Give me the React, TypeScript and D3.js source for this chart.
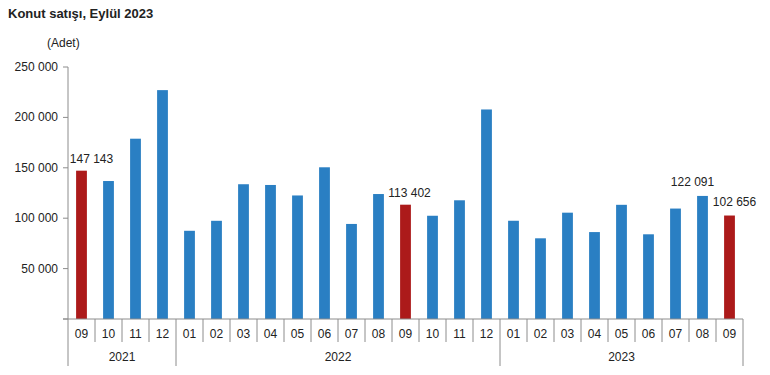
import * as d3 from "d3";
import { useEffect, useRef } from "react";

const months = ["09", "10", "11", "12", "01", "02", "03", "04", "05", "06", "07", "08", "09", "10", "11", "12", "01", "02", "03", "04", "05", "06", "07", "08", "09"];
const years = ["2021", "2021", "2021", "2021", "2022", "2022", "2022", "2022", "2022", "2022", "2022", "2022", "2022", "2022", "2022", "2022", "2023", "2023", "2023", "2023", "2023", "2023", "2023", "2023", "2023"];
const sales = [147143, 136883, 178866, 227060, 87506, 97418, 133698, 132965, 122555, 150509, 94300, 123975, 113402, 102425, 117771, 207860, 97461, 80054, 105476, 86234, 113276, 84031, 109563, 122091, 102656];
const highlighted = [0, 12, 24];
const labelled = [0, 12, 23, 24];
const yTicks = [0, 50000, 100000, 150000, 200000, 250000];

const App = () => {
  const ref = useRef<SVGSVGElement>(null);

  useEffect(() => {
    if (ref && ref.current) ref.current.innerHTML = "";

    const width = 770;
    const height = 375;
    const left = 68, right = 743, top = 67, bottom = 319;

    const svg = d3.select(ref.current)
      .attr("width", width)
      .attr("height", height)
      .style("font-family", "'Liberation Sans', Arial, sans-serif");

    const x = d3.scaleBand<number>()
      .domain(d3.range(sales.length))
      .range([left, right])
      .paddingInner(0.6)
      .paddingOuter(0.3);
    const step = x.step();
    const y = d3.scaleLinear().domain([0, 250000]).range([bottom, top]);
    const fmt = (v: number) => d3.format(",d")(v).replace(/,/g, " ");
    const axisColor = "#8c8c8c";

    // title
    svg.append("text")
      .attr("x", 8).attr("y", 18)
      .attr("font-size", 13).attr("font-weight", "bold").attr("fill", "#222")
      .text("Konut satışı, Eylül 2023");
    svg.append("text")
      .attr("x", 47).attr("y", 47)
      .attr("font-size", 12).attr("fill", "#222")
      .text("(Adet)");

    // y axis
    svg.append("line")
      .attr("x1", left).attr("x2", left).attr("y1", top).attr("y2", bottom)
      .attr("stroke", axisColor);
    const yt = svg.append("g").selectAll("g").data(yTicks).join("g");
    yt.append("line")
      .attr("x1", left - 5).attr("x2", left)
      .attr("y1", d => y(d)).attr("y2", d => y(d))
      .attr("stroke", axisColor);
    yt.filter(d => d > 0).append("text")
      .attr("x", left - 10).attr("y", d => y(d) + 4)
      .attr("text-anchor", "end").attr("font-size", 12).attr("fill", "#222")
      .text(d => fmt(d));

    // bars
    svg.append("g").selectAll("rect").data(sales).join("rect")
      .attr("x", (d, i) => x(i)!)
      .attr("width", x.bandwidth())
      .attr("y", d => y(d))
      .attr("height", d => bottom - y(d))
      .attr("fill", (d, i) => highlighted.includes(i) ? "#ac1a1a" : "#2a7fc3");

    // value labels
    const dxs: Record<number, number> = { 0: 10, 12: 4, 23: -10, 24: 5 };
    svg.append("g").selectAll("text").data(labelled).join("text")
      .attr("x", i => x(i)! + x.bandwidth() / 2 + (dxs[i] || 0))
      .attr("y", i => y(sales[i]) - (i === 23 || i === 24 ? 10 : 8))
      .attr("text-anchor", "middle").attr("font-size", 12).attr("fill", "#222")
      .text(i => fmt(sales[i]));

    // x axis
    svg.append("line")
      .attr("x1", left - 5).attr("x2", right).attr("y1", bottom).attr("y2", bottom)
      .attr("stroke", axisColor);
    const edges = d3.range(sales.length + 1).map(i => left + i * step);
    svg.append("g").selectAll("line").data(edges).join("line")
      .attr("x1", d => d).attr("x2", d => d)
      .attr("y1", bottom)
      .attr("y2", (d, i) => (i === 0 || i === sales.length || years[i] !== years[i - 1]) ? 366 : 342)
      .attr("stroke", axisColor);
    svg.append("g").selectAll("text").data(months).join("text")
      .attr("x", (d, i) => x(i)! + x.bandwidth() / 2)
      .attr("y", 338)
      .attr("text-anchor", "middle").attr("font-size", 12).attr("fill", "#222")
      .text(d => d);

    const yearGroups = d3.groups(d3.range(sales.length), i => years[i]);
    svg.append("g").selectAll("text").data(yearGroups).join("text")
      .attr("x", ([, idx]) => left + (idx[0] + idx[idx.length - 1] + 1) / 2 * step)
      .attr("y", 361)
      .attr("text-anchor", "middle").attr("font-size", 12).attr("fill", "#222")
      .text(([yr]) => yr);
  }, []);

  return <svg ref={ref} style={{ position: "absolute", left: 0, top: 0 }} />;
};

export default App;
